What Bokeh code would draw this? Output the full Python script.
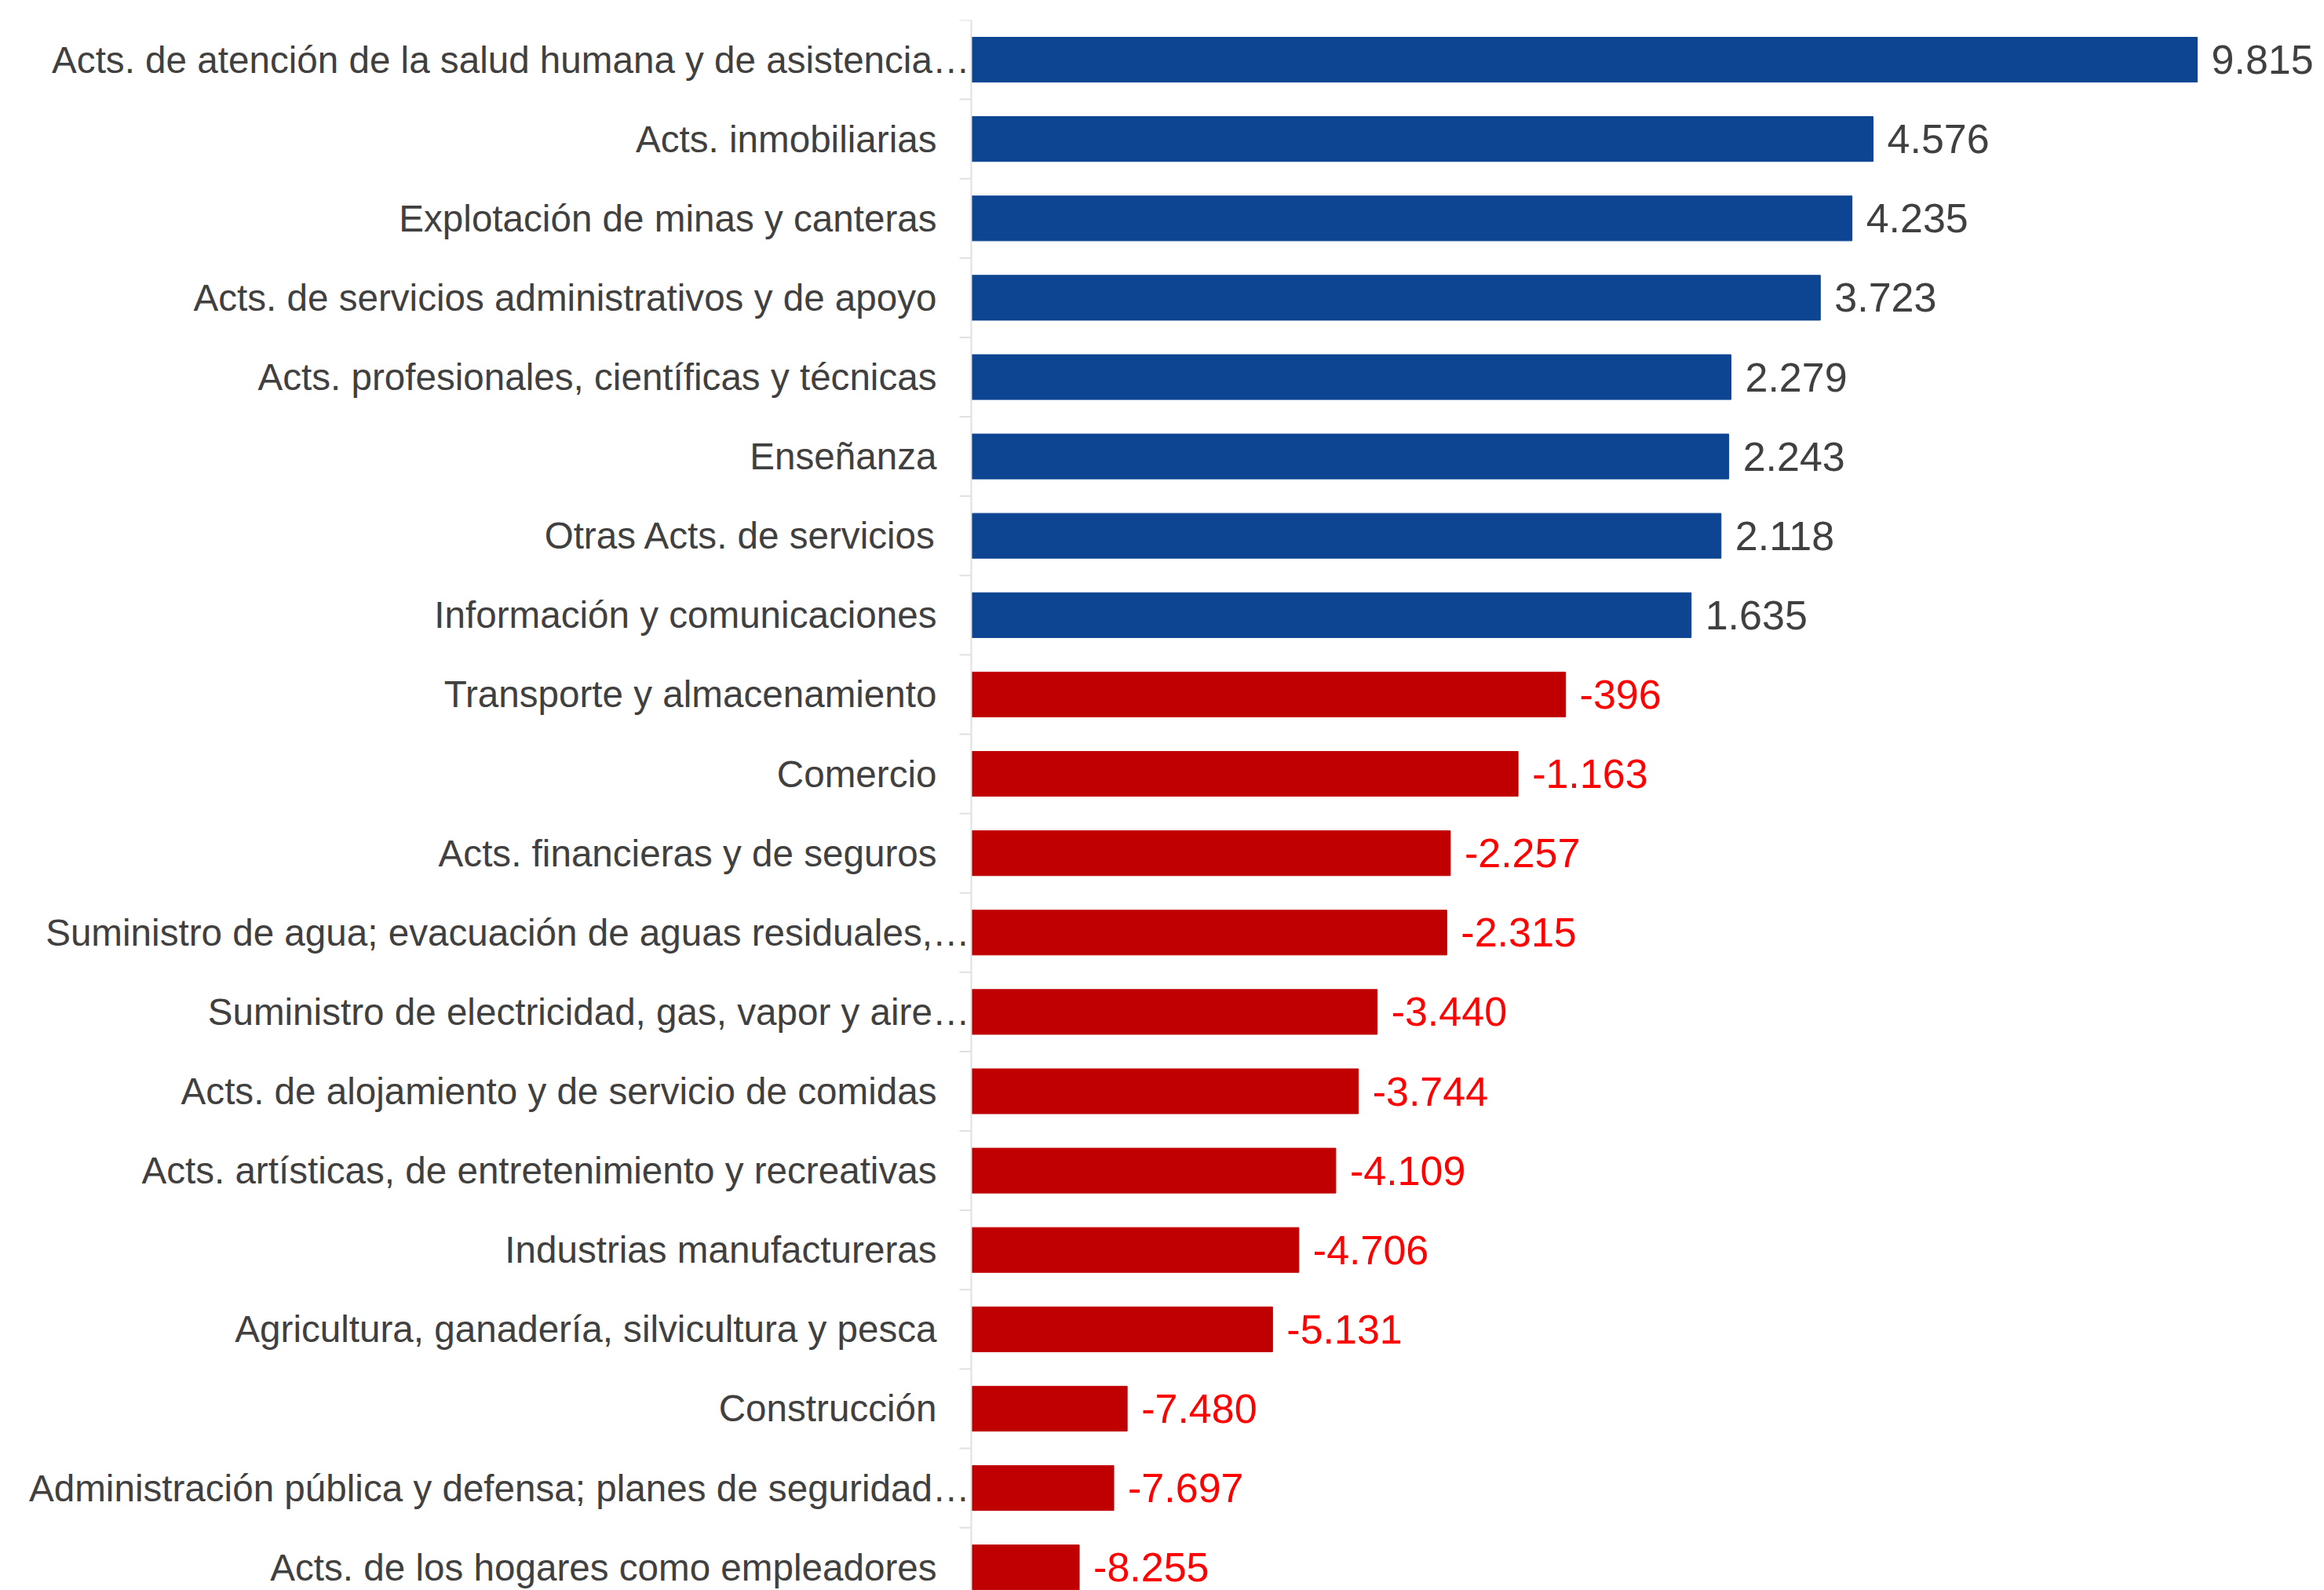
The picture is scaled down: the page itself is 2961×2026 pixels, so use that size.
import math
from bokeh.plotting import figure
from bokeh.models import ColumnDataSource, Range1d, Span
from bokeh.embed import file_html
from bokeh.resources import INLINE
from bokeh.core.properties import value

categories = [
    "Acts. de atención de la salud humana y de asistencia…",
    "Acts. inmobiliarias",
    "Explotación de minas y canteras",
    "Acts. de servicios administrativos y de apoyo",
    "Acts. profesionales, científicas y técnicas",
    "Enseñanza",
    "Otras Acts. de servicios",
    "Información y comunicaciones",
    "Transporte y almacenamiento",
    "Comercio",
    "Acts. financieras y de seguros",
    "Suministro de agua; evacuación de aguas residuales,…",
    "Suministro de electricidad, gas, vapor y aire…",
    "Acts. de alojamiento y de servicio de comidas",
    "Acts. artísticas, de entretenimiento y recreativas",
    "Industrias manufactureras",
    "Agricultura, ganadería, silvicultura y pesca",
    "Construcción",
    "Administración pública y defensa; planes de seguridad…",
    "Acts. de los hogares como empleadores",
]
values = [9815, 4576, 4235, 3723, 2279, 2243, 2118, 1635, -396, -1163,
          -2257, -2315, -3440, -3744, -4109, -4706, -5131, -7480, -7697, -8255]
axis_min = -10000
axis_max = 11768

BLUE = "#0D4592"
RED = "#C00000"
GRID = "#e0e0e0"

W, H = 2953, 2026
AXIS_PX = 1237  # horizontal position of the category axis
px_per_unit = (W - AXIS_PX) / (axis_max - axis_min)
x_start = axis_min - AXIS_PX / px_per_unit

pos = list(range(len(categories)))
truncated = [c.endswith("…") for c in categories]

src = ColumnDataSource(dict(
    y=pos,
    val=values,
    base=[axis_min] * len(values),
    color=[BLUE if v >= 0 else RED for v in values],
    lbl=[f"{v:,}".replace(",", ".") for v in values],
    lcolor=["#404040" if v >= 0 else "#FF0000" for v in values],
    cat=categories,
    coff=[-2 if t else -44 for t in truncated],
))

bounds = [i + 0.5 for i in range(-1, len(pos) - 1)]
tick_src = ColumnDataSource(dict(y=bounds, x=[axis_min] * len(bounds)))

p = figure(width=W, height=H, output_backend="svg", toolbar_location=None,
           x_range=Range1d(x_start, axis_max), y_range=Range1d(19.29, -0.5),
           min_border_left=0, min_border_right=0, min_border_top=25,
           min_border_bottom=0)
p.outline_line_color = None
p.xgrid.visible = False
p.ygrid.visible = False
p.xaxis.visible = False
p.yaxis.visible = False

p.hbar(y="y", left="base", right="val", height=0.565, color="color", source=src)

p.add_layout(Span(location=axis_min, dimension="height", line_color=GRID, line_width=2))
p.ray(x="x", y="y", length=15, length_units="screen", angle=math.pi,
      line_color=GRID, line_width=2, source=tick_src)

p.text(x="base", y="y", text="cat", source=src, x_offset="coff",
       text_align="right", text_baseline="middle",
       text_font=value("Liberation Sans"), text_font_size="47.6px",
       text_color="#404040")
p.text(x="val", y="y", text="lbl", source=src, x_offset=18,
       text_align="left", text_baseline="middle",
       text_font=value("Liberation Sans"), text_font_size="52px",
       text_color="lcolor")

open("out.html", "w").write(file_html(p, INLINE))
